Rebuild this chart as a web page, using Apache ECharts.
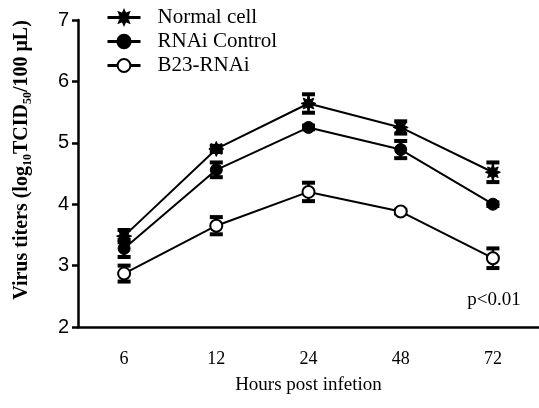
<!DOCTYPE html>
<html>
<head>
<meta charset="utf-8">
<script src="https://cdn.jsdelivr.net/npm/echarts@6/dist/echarts.min.js"></script>
<style>
	html, body { margin: 0; padding: 0; background: #fff; }
	#chart { width: 539px; height: 408px; }
</style>
</head>
<body>
<div id="chart"></div>
<script>
	// hours post infection
	var hours = ['6', '12', '24', '48', '72'];
	var names = ['Normal cell', 'RNAi Control', 'B23-RNAi'];

	// log10 TCID50 / 100 uL
	var normalCell = [3.48, 4.9, 5.64, 5.25, 4.52];
	var rnaiControl = [3.28, 4.56, 5.25, 4.89, 4.0];
	var b23Rnai = [2.87, 3.65, 4.2, 3.88, 3.12];

	// error bars (+/-)
	var normalErr = [0.1, 0.05, 0.15, 0.1, 0.16];
	var rnaiErr = [0.14, 0.12, 0.03, 0.14, 0.03];
	var b23Err = [0.13, 0.14, 0.15, 0.03, 0.16];

	var yTicks = [2, 3, 4, 5, 6, 7];

	var serif = '"Liberation Serif", "DejaVu Serif", serif';
	var sans = '"Liberation Sans", Arial, sans-serif';

	// eight-armed asterisk marker
	function starPath() {
		var pts = [];
		for(var i = 0; i < 16; i++) {
			var a = i * Math.PI / 8 - Math.PI / 2;
			var r = (i % 2 == 0) ? 10 : 5.5;
			pts.push((10 + r * Math.cos(a)).toFixed(2) + ' ' + (10 + r * Math.sin(a)).toFixed(2));
		}
		return 'path://M' + pts.join(' L') + ' Z';
	}

	function errData(vals, errs) {
		var out = [];
		for(var i = 0; i < vals.length; i++) {
			out.push([i, vals[i] - errs[i], vals[i] + errs[i]]);
		}
		return out;
	}

	function errSeries(vals, errs) {
		return {
			type: 'custom',
			z: 1,
			silent: true,
			renderItem: function(params, api) {
				var lo = api.coord([api.value(0), api.value(1)]);
				var hi = api.coord([api.value(0), api.value(2)]);
				var w = 6.5;
				var st = { stroke: '#000', lineWidth: 4 };
				return {
					type: 'group',
					children: [
						{ type: 'line', shape: { x1: lo[0], y1: lo[1], x2: hi[0], y2: hi[1] }, style: { stroke: '#000', lineWidth: 2.5 } },
						{ type: 'line', shape: { x1: lo[0] - w, y1: lo[1], x2: lo[0] + w, y2: lo[1] }, style: st },
						{ type: 'line', shape: { x1: hi[0] - w, y1: hi[1], x2: hi[0] + w, y2: hi[1] }, style: st }
					]
				};
			},
			data: errData(vals, errs)
		};
	}

	function lineSeries(name, vals, symbol, size, extra) {
		var s = {
			name: name,
			type: 'line',
			z: 3,
			symbol: symbol,
			symbolSize: size,
			showAllSymbol: true,
			lineStyle: { color: '#000', width: 2 },
			itemStyle: { color: '#000', borderColor: '#000' },
			data: vals
		};
		if(extra) {
			s.itemStyle = extra;
		}
		return s;
	}

	var option = {
		animation: false,
		backgroundColor: '#fff',
		grid: {
			left: 78,
			right: -3,
			top: 20,
			bottom: 81
		},
		legend: {
			orient: 'vertical',
			left: 106,
			top: 7,
			padding: 0,
			itemWidth: 33,
			itemHeight: 16,
			itemGap: 3,
			data: names,
			itemStyle: { borderWidth: 2.5 },
			lineStyle: { width: 3 },
			formatter: '{t|{name}}',
			textStyle: {
				rich: {
					t: {
						fontFamily: serif,
						fontSize: 21,
						lineHeight: 20,
						color: '#000',
						padding: [0, 0, 0, 12]
					}
				}
			}
		},
		xAxis: {
			type: 'category',
			data: hours,
			boundaryGap: true,
			name: 'Hours post infetion',
			nameLocation: 'middle',
			nameGap: 49,
			nameTextStyle: { fontFamily: serif, fontSize: 19, color: '#000' },
			axisLine: { lineStyle: { color: '#000', width: 2.5 } },
			axisTick: { alignWithLabel: true, length: 8, lineStyle: { color: '#000', width: 2.5 } },
			axisLabel: { fontFamily: serif, fontSize: 18, color: '#000', margin: 23 },
			splitLine: { show: false }
		},
		yAxis: {
			type: 'value',
			min: yTicks[0],
			max: yTicks[yTicks.length - 1],
			interval: 1,
			axisLine: { show: true, lineStyle: { color: '#000', width: 2.5 } },
			axisTick: { show: true, length: 6, lineStyle: { color: '#000', width: 2.5 } },
			axisLabel: { fontFamily: sans, fontSize: 20, color: '#000', margin: 9 },
			splitLine: { show: false }
		},
		graphic: [{
			type: 'text',
			x: 22,
			y: 160,
			rotation: Math.PI / 2,
			style: {
				text: '{b|Virus titers (log}{s|10}{b|TCID}{s|50}{b|/100 μL)}',
				align: 'center',
				verticalAlign: 'middle',
				rich: {
					b: { fontFamily: serif, fontSize: 20, fontWeight: 'bold', color: '#000', lineHeight: 24, verticalAlign: 'middle' },
					s: { fontFamily: serif, fontSize: 12, fontWeight: 'bold', color: '#000', lineHeight: 24, verticalAlign: 'bottom' }
				}
			}
		}, {
			type: 'text',
			x: 494,
			y: 300,
			style: {
				text: 'p<0.01',
				align: 'center',
				verticalAlign: 'middle',
				fontFamily: serif,
				fontSize: 19,
				fill: '#000'
			}
		}],
		series: [
			errSeries(normalCell, normalErr),
			errSeries(rnaiControl, rnaiErr),
			errSeries(b23Rnai, b23Err),
			lineSeries(names[0], normalCell, starPath(), 15),
			lineSeries(names[1], rnaiControl, 'circle', 12),
			lineSeries(names[2], b23Rnai, 'emptyCircle', 12, { color: '#000', borderColor: '#000', borderWidth: 3 })
		]
	};

	var chart = echarts.init(document.getElementById('chart'));
	chart.setOption(option);
</script>
</body>
</html>
